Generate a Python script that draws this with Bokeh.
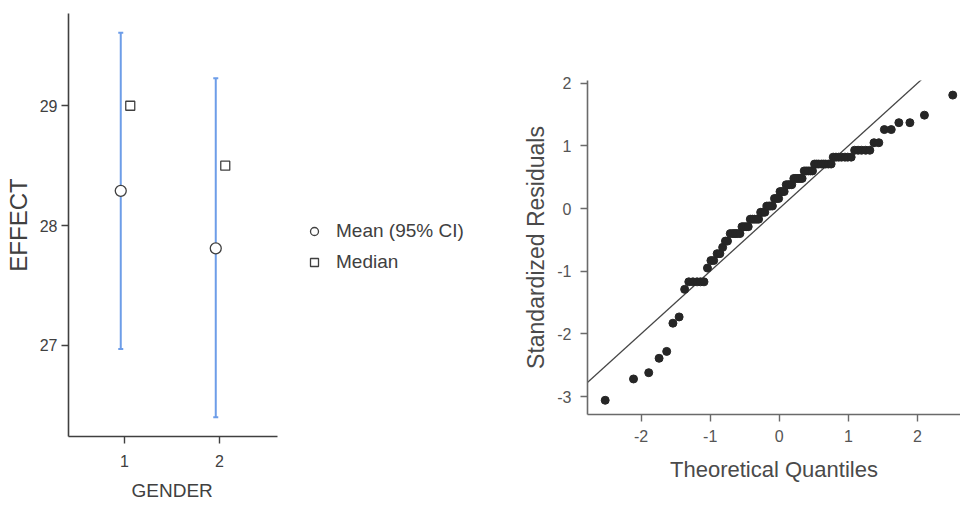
from jinja2 import Template
from bokeh.plotting import figure
from bokeh.models import ColumnDataSource, Legend, LegendItem, FixedTicker, Title
from bokeh.transform import dodge
from bokeh.embed import file_html
from bokeh.resources import INLINE

# ---------------- data: left panel (descriptives by gender) ----------------
gender = [1, 2]
mean_effect = [28.29, 27.81]
ci_lower = [26.97, 26.40]
ci_upper = [29.61, 29.23]
median_effect = [29.0, 28.5]
effect_ticks = [27, 28, 29]

# ---------------- data: right panel (Q-Q plot of residuals) ----------------
theoretical_quantiles = [
    -2.52, -2.11, -1.89, -1.74, -1.63, -1.54, -1.45, -1.37, -1.31, -1.25,
    -1.19, -1.14, -1.09, -1.04, -0.99, -0.95, -0.90, -0.86, -0.82, -0.78,
    -0.75, -0.71, -0.67, -0.64, -0.61, -0.57, -0.54, -0.51, -0.48, -0.45,
    -0.42, -0.39, -0.36, -0.33, -0.30, -0.27, -0.24, -0.21, -0.18, -0.15,
    -0.13, -0.10, -0.07, -0.04, -0.01, 0.01, 0.04, 0.07, 0.10, 0.13,
    0.15, 0.18, 0.21, 0.24, 0.27, 0.30, 0.33, 0.36, 0.39, 0.42,
    0.45, 0.48, 0.51, 0.54, 0.57, 0.61, 0.64, 0.67, 0.71, 0.75,
    0.78, 0.82, 0.86, 0.90, 0.95, 0.99, 1.04, 1.09, 1.14, 1.19,
    1.25, 1.31, 1.37, 1.44, 1.52, 1.62, 1.73, 1.89, 2.10, 2.51,
]
standardized_residuals = [
    -3.06, -2.72, -2.62, -2.39, -2.28, -1.83, -1.73, -1.29, -1.17, -1.17,
    -1.17, -1.17, -1.17, -0.95, -0.83, -0.83, -0.72, -0.72, -0.62, -0.52,
    -0.52, -0.40, -0.40, -0.40, -0.40, -0.40, -0.29, -0.29, -0.29, -0.29,
    -0.17, -0.17, -0.17, -0.17, -0.17, -0.06, -0.06, -0.06, 0.04, 0.04,
    0.04, 0.04, 0.16, 0.16, 0.16, 0.27, 0.27, 0.27, 0.38, 0.38,
    0.38, 0.38, 0.48, 0.48, 0.48, 0.48, 0.48, 0.60, 0.60, 0.60,
    0.60, 0.60, 0.71, 0.71, 0.71, 0.71, 0.71, 0.71, 0.71, 0.71,
    0.82, 0.82, 0.82, 0.82, 0.82, 0.82, 0.82, 0.93, 0.93, 0.93,
    0.93, 0.93, 1.05, 1.05, 1.26, 1.26, 1.37, 1.37, 1.49, 1.81,
]
quantile_ticks = [-2, -1, 0, 1, 2]
residual_ticks = [-3, -2, -1, 0, 1, 2]
qq_line_x = [-3.0, 3.0]
qq_line_y = [-3.0, 3.0]

FONT = "Liberation Sans"
BLUE = "#6d9de8"
DARK = "#404040"

# ---------------- left figure ----------------
src = ColumnDataSource(dict(gender=gender, mean=mean_effect, lower=ci_lower,
                            upper=ci_upper, median=median_effect))

p1 = figure(width=519, height=514, x_range=(0.41, 5.157), y_range=(26.24, 29.77),
            output_backend="svg", toolbar_location=None,
            min_border_left=68, min_border_right=0, min_border_top=13, min_border_bottom=78)
p1.outline_line_color = None
p1.grid.visible = False

xm = dodge("gender", -0.04, range=p1.x_range)
xmed = dodge("gender", 0.06, range=p1.x_range)
p1.segment(x0=xm, y0="lower", x1=xm, y1="upper", source=src, line_color=BLUE, line_width=2)
p1.scatter(x=xm, y="upper", source=src, marker="dash", size=5, line_color=BLUE, line_width=2)
p1.scatter(x=xm, y="lower", source=src, marker="dash", size=5, line_color=BLUE, line_width=2)
r_mean = p1.scatter(x=xm, y="mean", source=src, marker="circle", size=11,
                    fill_color="white", line_color=DARK, line_width=1.3)
r_med = p1.scatter(x=xmed, y="median", source=src, marker="square", size=9,
                   fill_color="white", line_color=DARK, line_width=1.3)

p1.xaxis.ticker = FixedTicker(ticks=gender)
p1.yaxis.ticker = FixedTicker(ticks=effect_ticks)
p1.xaxis.bounds = (0.41, 2.61)
p1.yaxis.axis_label = "EFFECT"
for ax in (p1.xaxis[0], p1.yaxis[0]):
    ax.axis_line_color = DARK
    ax.axis_line_width = 1.6
    ax.major_tick_line_color = DARK
    ax.major_tick_line_width = 1.4
    ax.major_tick_in = 0
    ax.major_tick_out = 7
    ax.minor_tick_line_color = None
    ax.major_label_text_font = FONT
    ax.major_label_text_font_size = "16px"
    ax.major_label_text_color = DARK
    ax.axis_label_text_font = FONT
    ax.axis_label_text_font_style = "normal"
    ax.axis_label_text_color = DARK
p1.xaxis.major_label_standoff = 11
p1.yaxis.major_label_standoff = 4
p1.yaxis.axis_label_text_font_size = "24px"
p1.yaxis.axis_label_standoff = 5

# x-axis title, placed under the bounded axis (centred between the groups)
p1.add_layout(Title(text="GENDER", align="left", offset=63, standoff=17,
                    text_font=FONT, text_font_size="19px", text_font_style="normal",
                    text_color=DARK), "below")

legend = Legend(items=[LegendItem(label="Mean (95% CI)", renderers=[r_mean]),
                       LegendItem(label="Median", renderers=[r_med])],
                location=(236, 163), glyph_width=20, glyph_height=20, label_height=22,
                spacing=9, padding=0, margin=0, label_standoff=12,
                border_line_color=None, background_fill_alpha=0,
                label_text_font=FONT, label_text_font_size="19px", label_text_color=DARK)
p1.add_layout(legend)

# ---------------- right figure ----------------
p2 = figure(width=441, height=514, x_range=(-2.776, 2.622), y_range=(-3.287, 2.043),
            output_backend="svg", toolbar_location=None,
            min_border_left=68, min_border_right=0, min_border_top=80, min_border_bottom=100)
p2.outline_line_color = None
p2.grid.visible = False
p2.line(qq_line_x, qq_line_y, line_color="#454545", line_width=1.3)
p2.scatter(theoretical_quantiles, standardized_residuals, size=8, color="#262626")

p2.xaxis.ticker = FixedTicker(ticks=quantile_ticks)
p2.yaxis.ticker = FixedTicker(ticks=residual_ticks)
p2.xaxis.major_label_overrides = {t: str(t) for t in quantile_ticks}
p2.yaxis.major_label_overrides = {t: str(t) for t in residual_ticks}
p2.xaxis.axis_label = "Theoretical Quantiles"
p2.yaxis.axis_label = "Standardized Residuals"
for ax in (p2.xaxis[0], p2.yaxis[0]):
    ax.axis_line_color = "#6a6a6a"
    ax.axis_line_width = 1.6
    ax.major_tick_line_color = "#6a6a6a"
    ax.major_tick_line_width = 1.4
    ax.major_tick_in = 0
    ax.major_tick_out = 7
    ax.minor_tick_line_color = None
    ax.major_label_text_font = FONT
    ax.major_label_text_font_size = "16px"
    ax.major_label_text_color = "#555555"
    ax.axis_label_text_font = FONT
    ax.axis_label_text_font_style = "normal"
    ax.axis_label_text_color = "#4a4a4a"
p2.xaxis.major_label_standoff = 8
p2.yaxis.major_label_standoff = 9
p2.xaxis.axis_label_text_font_size = "22px"
p2.yaxis.axis_label_text_font_size = "23px"
p2.xaxis.axis_label_standoff = 12
p2.yaxis.axis_label_standoff = 5

# Two independent roots laid side by side (no frame alignment between them)
template = Template("""{% extends base %}
{% block postamble %}
<style>
  body { display: flex; flex-direction: row; align-items: flex-start; }
</style>
{% endblock %}""")

open("out.html", "w").write(file_html([p1, p2], INLINE, template=template))
